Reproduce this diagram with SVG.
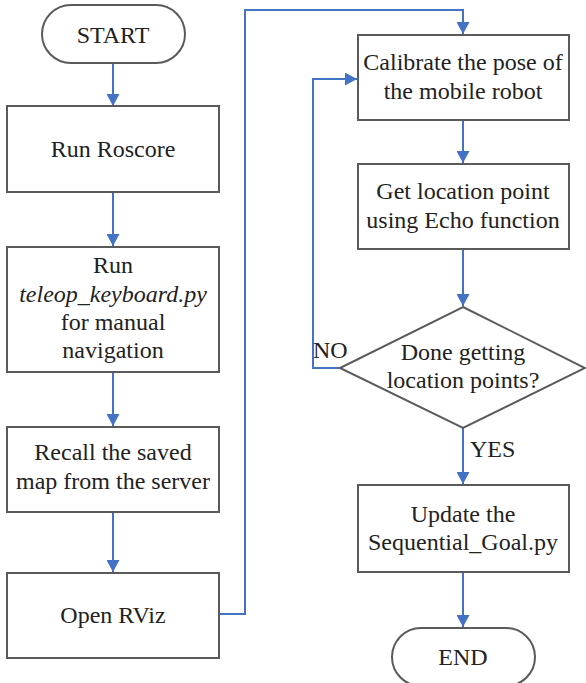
<svg xmlns="http://www.w3.org/2000/svg" width="586" height="683" viewBox="0 0 586 683">
  <style>
    .box { fill: #ffffff; stroke: #5a5a5a; stroke-width: 2; }
    text { font-family: 'Times New Roman', 'Liberation Serif', serif; font-size: 24px; fill: #222222; }
    .lbl { text-anchor: middle; }
    .flow { fill: none; stroke: #4472C4; stroke-width: 2; marker-end: url(#arrow); }
  </style>
  <defs>
    <marker id="arrow" markerUnits="userSpaceOnUse" markerWidth="13" markerHeight="13" refX="12" refY="6.5" orient="auto">
      <path d="M0,0 L12,6.5 L0,13 Z" fill="#4472C4"/>
    </marker>
  </defs>
  <rect width="586" height="683" fill="#ffffff"/>

  <!-- connectors -->
  <g id="connectors">
    <path class="flow" d="M113 63 V106"/>
    <path class="flow" d="M113 192 V246"/>
    <path class="flow" d="M113 372 V426"/>
    <path class="flow" d="M113 512 V572"/>
    <path class="flow" d="M219 614 H245 V10 H463 V34"/>
    <path class="flow" d="M463 120 V163"/>
    <path class="flow" d="M463 249 V306"/>
    <path class="flow" d="M340 368 H313 V79 H357"/>
    <path class="flow" d="M463 428 V484"/>
    <path class="flow" d="M463 572 V627"/>
    <text x="313" y="358">NO</text>
    <text x="470" y="457">YES</text>
  </g>

  <!-- left column -->
  <g id="start">
    <rect class="box" x="42" y="5" width="143" height="58" rx="29"/>
    <text class="lbl" x="113" y="43">START</text>
  </g>
  <g id="run-roscore">
    <rect class="box" x="7" y="106" width="212" height="86"/>
    <text class="lbl" x="113" y="157">Run Roscore</text>
  </g>
  <g id="run-teleop">
    <rect class="box" x="7" y="247" width="212" height="125"/>
    <text class="lbl" x="113" y="273">Run</text>
    <text class="lbl" x="113" y="302" font-style="italic">teleop_keyboard.py</text>
    <text class="lbl" x="113" y="330">for manual</text>
    <text class="lbl" x="113" y="358">navigation</text>
  </g>
  <g id="recall-map">
    <rect class="box" x="7" y="427" width="212" height="85"/>
    <text class="lbl" x="113" y="460">Recall the saved</text>
    <text class="lbl" x="113" y="489">map from the server</text>
  </g>
  <g id="open-rviz">
    <rect class="box" x="7" y="573" width="212" height="85"/>
    <text class="lbl" x="113" y="623">Open RViz</text>
  </g>

  <!-- right column -->
  <g id="calibrate">
    <rect class="box" x="358" y="35" width="211" height="85"/>
    <text class="lbl" x="463" y="70">Calibrate the pose of</text>
    <text class="lbl" x="463" y="99">the mobile robot</text>
  </g>
  <g id="get-location">
    <rect class="box" x="358" y="164" width="211" height="85"/>
    <text class="lbl" x="463" y="199">Get location point</text>
    <text class="lbl" x="463" y="228">using Echo function</text>
  </g>
  <g id="done-decision">
    <polygon class="box" points="463,307 585,368 463,428 340,368"/>
    <text class="lbl" x="463" y="360">Done getting</text>
    <text class="lbl" x="463" y="388">location points?</text>
  </g>
  <g id="update-goal">
    <rect class="box" x="358" y="485" width="211" height="87"/>
    <text class="lbl" x="463" y="522">Update the</text>
    <text class="lbl" x="463" y="550">Sequential_Goal.py</text>
  </g>
  <g id="end">
    <rect class="box" x="392" y="628" width="143" height="58" rx="29"/>
    <text class="lbl" x="463" y="665">END</text>
  </g>
</svg>
